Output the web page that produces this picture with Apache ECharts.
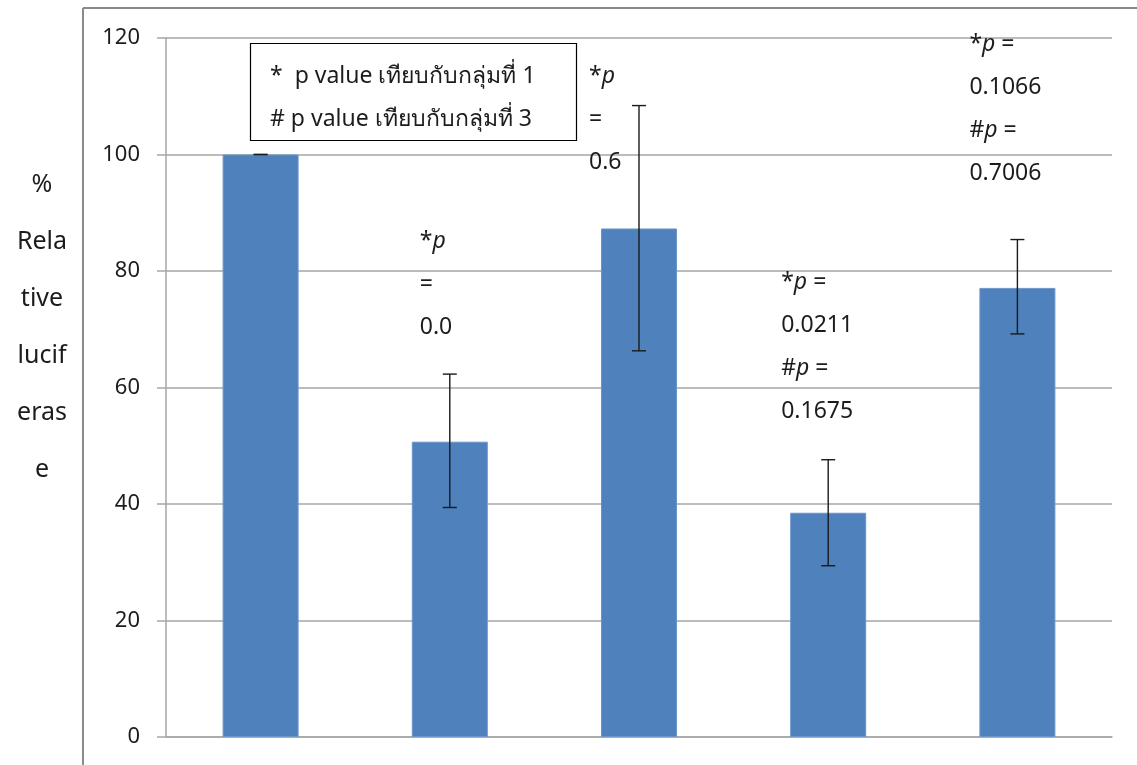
<!DOCTYPE html>
<html>
<head>
<meta charset="utf-8">
<title>% Relative luciferase</title>
<script src="https://cdn.jsdelivr.net/npm/echarts@6/dist/echarts.min.js"></script>
<style>
  html, body { margin: 0; padding: 0; background: #fff; }
  #chart { width: 1137px; height: 765px; }
</style>
</head>
<body>
<div id="chart"></div>
<script>
// Groups and measured values (% relative luciferase, mean and error range)
const groups = ['1', '2', '3', '4', '5'];
const luciferase = [100, 50.7, 87.3, 38.5, 77.1];
const errHigh = [100, 62.3, 108.4, 47.6, 85.4];
const errLow = [100, 39.4, 66.3, 29.4, 69.2];

// Y axis scale
const yMin = 0;
const yMax = 120;
const yStep = 20;

// p-value notes per group ({i|p} renders an italic p)
const pNotes = [
  null,
  '*{i|p}\n=\n0.0',
  '*{i|p}\n=\n0.6',
  '*{i|p} =\n0.0211\n#{i|p} =\n0.1675',
  '*{i|p} =\n0.1066\n#{i|p} =\n0.7006'
];

// Key text and axis title
const keyLines = ['*  p value เทียบกับกลุ่มที่ 1', '# p value เทียบกับกลุ่มที่ 3'];
const yTitle = ['%', 'Rela', 'tive', 'lucif', 'eras', 'e'];

// Placement of the notes: horizontal pixel shift from the bar centre, top of text in axis units
const noteLayout = [null, [-30, 88.7], [-50, 117.1], [-47, 81.7], [-48, 122.5]];

const FONT = '"Noto Sans", "DejaVu Sans", sans-serif';
const GRID_COLOR = '#a6a6a6';
const TEXT_COLOR = '#1c1c1c';

const chart = echarts.init(document.getElementById('chart'), null, { renderer: 'canvas' });

const option = {
  backgroundColor: '#ffffff',
  animation: false,
  grid: { left: 166, right: 25, top: 38, bottom: 28, containLabel: false },
  xAxis: {
    type: 'category',
    data: groups,
    axisLine: { show: true, lineStyle: { color: GRID_COLOR, width: 1.5 } },
    axisTick: { show: false },
    axisLabel: { show: false },
    splitLine: { show: false }
  },
  yAxis: {
    type: 'value',
    min: yMin,
    max: yMax,
    interval: yStep,
    axisLine: { show: true, lineStyle: { color: GRID_COLOR, width: 1.5 } },
    axisTick: { show: true, length: 9, lineStyle: { color: GRID_COLOR, width: 1.5 } },
    axisLabel: { margin: 26, fontSize: 22, color: TEXT_COLOR, fontFamily: FONT },
    splitLine: { show: true, lineStyle: { color: GRID_COLOR, width: 1.5 } }
  },
  graphic: [
    // chart frame (top and left edges)
    { type: 'line', shape: { x1: 83, y1: 8, x2: 1137, y2: 8 }, style: { stroke: '#8a8a8a', lineWidth: 2 }, z: 10 },
    { type: 'line', shape: { x1: 83, y1: 8, x2: 83, y2: 765 }, style: { stroke: '#8a8a8a', lineWidth: 2 }, z: 10 },
    // key box
    {
      type: 'rect', shape: { x: 250.5, y: 43.5, width: 326, height: 97 },
      style: { fill: '#fff', stroke: '#000', lineWidth: 1.2 }, z: 20
    },
    {
      type: 'text', left: 270, top: 55, z: 21,
      style: { text: keyLines.join('\n'), font: '23px ' + FONT, fill: TEXT_COLOR, lineHeight: 43 }
    },
    // y axis title
    {
      type: 'text', x: 42, y: 156, z: 21,
      style: { text: yTitle.join('\n'), font: '25px ' + FONT, fill: TEXT_COLOR, lineHeight: 57, align: 'center' }
    }
  ],
  series: [
    {
      type: 'bar',
      data: luciferase,
      barWidth: 76,
      itemStyle: { color: '#4f81bd', borderColor: '#6b96c9', borderWidth: 1 },
      z: 2
    },
    {
      // error bars with caps
      type: 'custom',
      data: groups.map((g, i) => [i, errLow[i], errHigh[i]]),
      z: 5,
      renderItem: function (params, api) {
        const lo = api.coord([api.value(0), api.value(1)]);
        const hi = api.coord([api.value(0), api.value(2)]);
        const x = lo[0];
        const cap = 7;
        const st = { stroke: '#1a1a1a', lineWidth: 1.4 };
        return {
          type: 'group',
          children: [
            { type: 'line', shape: { x1: x, y1: hi[1], x2: x, y2: lo[1] }, style: st },
            { type: 'line', shape: { x1: x - cap, y1: hi[1], x2: x + cap, y2: hi[1] }, style: st },
            { type: 'line', shape: { x1: x - cap, y1: lo[1], x2: x + cap, y2: lo[1] }, style: st }
          ]
        };
      }
    },
    {
      // p-value notes
      type: 'custom',
      clip: false,
      data: groups.map((g, i) => (pNotes[i] ? [i, noteLayout[i][1]] : [i, '-'])),
      z: 6,
      renderItem: function (params, api) {
        const i = params.dataIndex;
        if (!pNotes[i]) return null;
        const p = api.coord([api.value(0), api.value(1)]);
        return {
          type: 'text',
          x: p[0] + noteLayout[i][0],
          y: p[1],
          style: {
            text: pNotes[i],
            font: '23px ' + FONT,
            fill: TEXT_COLOR,
            lineHeight: 43,
            verticalAlign: 'top',
            rich: {
              i: { fontStyle: 'italic', fontSize: 23, fontFamily: FONT, lineHeight: 43, fill: TEXT_COLOR }
            }
          }
        };
      }
    }
  ]
};

chart.setOption(option);
</script>
</body>
</html>
